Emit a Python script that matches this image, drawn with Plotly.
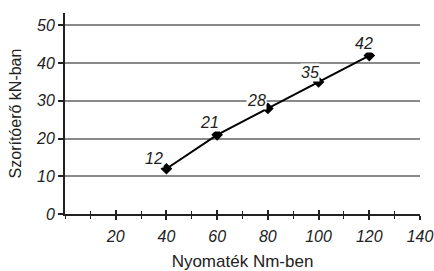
import plotly.graph_objects as go

torque = [40, 60, 80, 100, 120]
force = [12, 21, 28, 35, 42]
labels = ["12", "21", "28", "35", "42"]
x_ticks = [20, 40, 60, 80, 100, 120, 140]
y_ticks = [0, 10, 20, 30, 40, 50]

FONT = "Liberation Sans, Arial, sans-serif"

fig = go.Figure()
fig.add_trace(go.Scatter(
    x=torque, y=force, mode="lines+markers",
    line=dict(color="black", width=2),
    marker=dict(symbol="diamond", size=9, color="black"),
    showlegend=False, hoverinfo="skip"))

shifts = [(-12, 10), (-8, 12), (-11, 8), (-9, 10), (-5, 12)]
for x, y, t, (dx, dy) in zip(torque, force, labels, shifts):
    fig.add_annotation(x=x, y=y, text="<i>" + t + "</i>", showarrow=False,
                       xshift=dx, yshift=dy, bgcolor="white", borderpad=0,
                       font=dict(family=FONT, size=16, color="#222"))

# invisible overlay axis to draw the upper halves of the crossing x ticks
fig.add_trace(go.Scatter(x=[0], y=[0], xaxis="x2", mode="markers",
                         marker=dict(opacity=0), showlegend=False, hoverinfo="skip"))

fig.update_layout(
    width=434, height=271,
    margin=dict(l=65, r=14, t=13, b=57),
    paper_bgcolor="white", plot_bgcolor="white",
    font=dict(family=FONT, color="#222"),
    xaxis=dict(range=[0, 140], tickvals=x_ticks,
               ticktext=["<i>%d</i>" % v for v in x_ticks],
               ticks="outside", ticklen=4, tickwidth=1.5, tickcolor="#222",
               minor=dict(dtick=10, ticks="outside", ticklen=3, tickwidth=1, tickcolor="#222"),
               showline=True, linecolor="#222", linewidth=2,
               showgrid=False, zeroline=False, automargin=False,
               tickfont=dict(size=16), ticklabelstandoff=3,
               title=dict(text="Nyomaték Nm-ben", font=dict(size=17), standoff=12)),
    xaxis2=dict(range=[0, 140], overlaying="x", side="bottom", anchor="y",
                tickvals=x_ticks, showticklabels=False,
                ticks="inside", ticklen=4, tickwidth=1.5, tickcolor="#222",
                minor=dict(dtick=10, ticks="inside", ticklen=3, tickwidth=1, tickcolor="#222"),
                showline=False, showgrid=False, zeroline=False, automargin=False),
    yaxis=dict(range=[0, 53.3], tickvals=y_ticks,
               ticktext=["<i>%d</i>" % v for v in y_ticks],
               ticks="outside", ticklen=5, tickwidth=1.5, tickcolor="#222",
               showline=True, linecolor="#222", linewidth=2,
               showgrid=True, gridcolor="#8a8a8a", gridwidth=1.5,
               zeroline=False, automargin=False, tickfont=dict(size=16),
               title=dict(text="Szorítóerő kN-ban", font=dict(size=16), standoff=10)),
)

fig.write_html("out.html", config={"displayModeBar": False},
               post_script="document.body.style.margin='0';document.body.style.overflow='hidden';")
